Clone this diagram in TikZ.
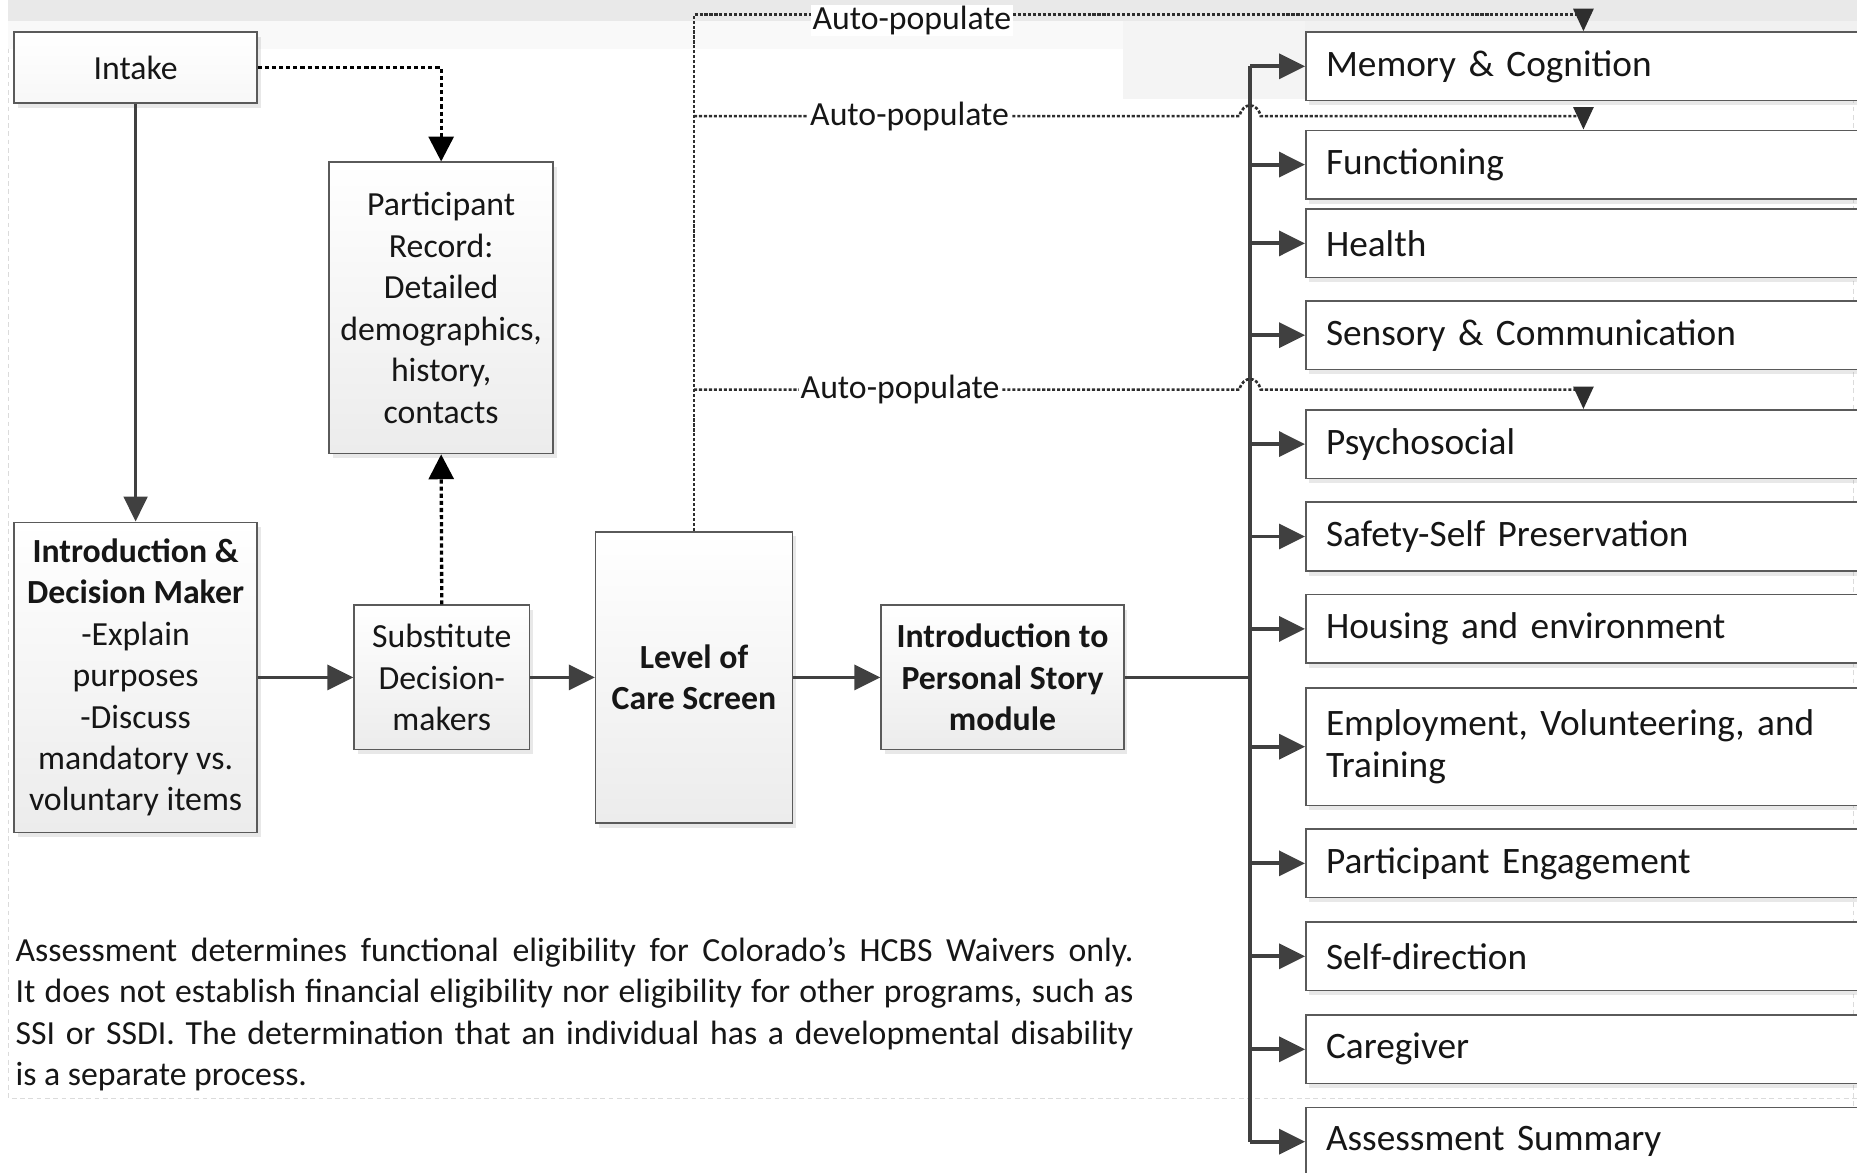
\documentclass[tikz,border=0pt]{standalone}
\usepackage{fontspec}
\setmainfont{Carlito}
\usetikzlibrary{arrows.meta,shadows,calc}
\definecolor{ln}{HTML}{404040}
\definecolor{dl}{HTML}{2E2E2E}
\definecolor{bd}{HTML}{5A5A5A}
\definecolor{txt}{HTML}{161616}
\begin{document}
\begin{tikzpicture}[x=1pt,y=-1pt,
  every node/.style={font=\fontsize{28.5}{35}\selectfont, text=txt},
  boxbase/.style={draw=bd, line width=1.3pt, inner sep=0pt,
     drop shadow={shadow xshift=3pt, shadow yshift=-4pt, opacity=0.2, fill=black!45}},
  gbox/.style={boxbase, top color=white, bottom color=gray!15, align=center},
  rbox/.style={boxbase, fill=white, anchor=west, text width=466pt, inner xsep=17pt,
     inner ysep=0pt, align=left, minimum height=58pt, font=\fontsize{31.5}{35}\selectfont},
  conn/.style={draw=ln, line width=3.2pt, -{Triangle[length=22pt,width=21pt]}},
  busline/.style={draw=ln, line width=3.2pt},
  thinconn/.style={draw=ln, line width=2.2pt, -{Triangle[length=21pt,width=20pt]}},
  dotarrow/.style={draw=black, line width=2.8pt, dash pattern=on 3.5pt off 2.5pt,
     -{Triangle[length=21pt,width=21pt]}},
  autoline/.style={draw=dl, line width=2.2pt, dash pattern=on 2.6pt off 1.6pt,
     -{Triangle[length=19pt,width=17pt]}},
  aplbl/.style={fill=white, inner xsep=1.5pt, inner ysep=1pt},
  pageedge/.style={draw=gray!28, line width=0.6pt, dash pattern=on 4pt off 3pt}
]
\useasboundingbox (0,0) rectangle (1568,990);
% page background artifacts
\fill[gray!17] (7,0) rectangle (1568,18);
\fill[gray!5] (7,18) rectangle (948,41);
\fill[gray!9] (948,18) rectangle (1102,84);
\fill[gray!11] (1102,18) rectangle (1568,27);
\draw[pageedge] (7,41) -- (7,927) -- (1568,927);
\draw[pageedge] (1565,41) -- (1565,990);

% left-hand flow
\node[gbox, bottom color=gray!6, minimum width=205pt, minimum height=60pt] (intake) at (114.5,57) {Intake};
\node[gbox, minimum width=189pt, minimum height=246pt] (prec) at (372.5,260)
  {Participant\\Record:\\Detailed\\demographics,\\history,\\contacts};
\node[gbox, minimum width=205pt, minimum height=262pt] (intro) at (114.5,572)
  {\textbf{Introduction \&}\\\textbf{Decision Maker}\\-Explain\\purposes\\-Discuss\\mandatory vs.\\voluntary items};
\node[gbox, minimum width=148pt, minimum height=122pt] (subst) at (373,572)
  {Substitute\\Decision-\\makers};
\node[gbox, minimum width=166pt, minimum height=246pt] (loc) at (586,572)
  {\textbf{Level of}\\\textbf{Care Screen}};
\node[gbox, minimum width=205pt, minimum height=122pt] (ips) at (846.5,572)
  {\textbf{Introduction to}\\\textbf{Personal Story}\\\textbf{module}};

% right-hand modules
\node[rbox] (r1) at (1102,56) {Memory \& Cognition};
\node[rbox] (r2) at (1102,139) {Functioning};
\node[rbox] (r3) at (1102,205.5) {Health};
\node[rbox] (r4) at (1102,283) {Sensory \& Communication};
\node[rbox] (r5) at (1102,375) {Psychosocial};
\node[rbox] (r6) at (1102,453) {Safety-Self Preservation};
\node[rbox] (r7) at (1102,531) {Housing and environment};
\node[rbox, minimum height=99pt] (r8) at (1102,630.5) {Employment, Volunteering, and\\Training};
\node[rbox] (r9) at (1102,729) {Participant Engagement};
\node[rbox] (r10) at (1102,807.5) {Self-direction};
\node[rbox] (r11) at (1102,886) {Caregiver};
\node[rbox] (r12) at (1102,964) {Assessment Summary};

% note
\node[anchor=west, inner sep=0pt, align=left] (note) at (13,856.5)
  {\makebox[944pt][s]{Assessment determines functional eligibility for Colorado’s HCBS Waivers only.}\\
   \makebox[944pt][s]{It does not establish financial eligibility nor eligibility for other programs, such as}\\
   \makebox[944pt][s]{SSI or SSDI. The determination that an individual has a developmental disability}\\
   is a separate process.};

% solid connectors
\draw[thinconn] (intake.south) -- (intro.north);
\draw[conn] (intro.east) -- (subst.west);
\draw[conn] (subst.east) -- (loc.west);
\draw[conn] (loc.east) -- (ips.west);
\coordinate (j) at (1055.5,572);
\draw[busline] (ips.east) -- (j);
\draw[busline] (j |- r1.west) -- (j |- r12.west);
\foreach \r in {r1,r2,r3,r4,r5,r6,r7,r8,r9,r10,r11,r12}
  \draw[conn] (j |- \r.west) -- (\r.west);

% dotted record links
\draw[dotarrow] (intake.east) -| (prec.north);
\draw[dotarrow] (subst.north) -- (prec.south);

% auto-populate links
\coordinate (tx) at (1337,0);
\coordinate (ap1) at (586,12);
\coordinate (ap2) at (586,98);
\coordinate (ap3) at (586,329);
\draw[autoline] (loc.north) -- (ap1) -- (ap1 -| tx) -- (tx |- r1.north);
\draw[autoline] (ap2) -- ($(j |- ap2)+(-9,0)$)
   .. controls ($(j |- ap2)+(-6,-12)$) and ($(j |- ap2)+(6,-12)$) .. ($(j |- ap2)+(9,0)$)
   -- (ap2 -| tx) -- (tx |- r2.north);
\draw[autoline] (ap3) -- ($(j |- ap3)+(-9,0)$)
   .. controls ($(j |- ap3)+(-6,-12)$) and ($(j |- ap3)+(6,-12)$) .. ($(j |- ap3)+(9,0)$)
   -- (ap3 -| tx) -- (tx |- r5.north);
\node[aplbl] (l1) at (770,17) {Auto-populate};
\node[aplbl] (l2) at (768,98) {Auto-populate};
\node[aplbl] (l3) at (760,329) {Auto-populate};
\end{tikzpicture}
\end{document}
